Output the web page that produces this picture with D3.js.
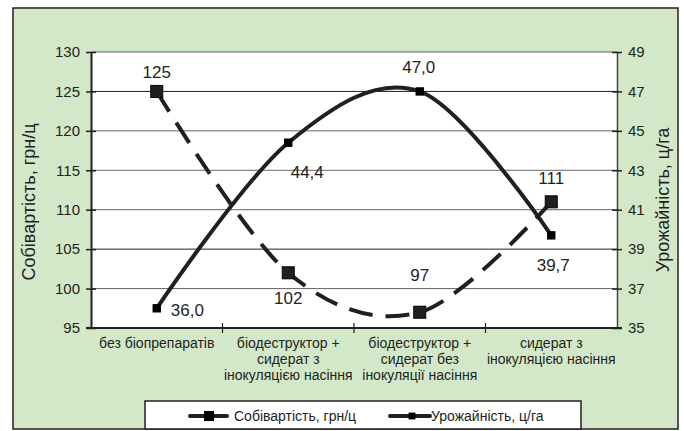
<!DOCTYPE html>
<html>
<head>
<meta charset="utf-8">
<script src="https://cdn.jsdelivr.net/npm/d3@7"></script>
<style>
  body { margin: 0; background: #fff; }
  svg text { font-family: "Liberation Sans", Arial, sans-serif; fill: #231f20; }
</style>
</head>
<body>
<div id="chart"></div>
<script>
// categories (multi-line labels)
const categories = [
    ["без біопрепаратів"],
    ["біодеструктор +", "сидерат з", "інокуляцією насіння"],
    ["біодеструктор +", "сидерат без", "інокуляції насіння"],
    ["сидерат з", "інокуляцією насіння"]
];
const costValues = [125, 102, 97, 111];
const yieldValues = [36.0, 44.4, 47.0, 39.7];
const costLabels = ["125", "102", "97", "111"];
const yieldLabels = ["36,0", "44,4", "47,0", "39,7"];
const leftTicks = [95, 100, 105, 110, 115, 120, 125, 130];
const rightTicks = [35, 37, 39, 41, 43, 45, 47, 49];
const legendNames = ["Собівартість, грн/ц", "Урожайність, ц/га"];

// label offsets relative to the point (dx, dy, anchor)
const costLabelPos = [[0, -13, "middle"], [0, 31, "middle"], [0, -31, "middle"], [0, -18, "middle"]];
const yieldLabelPos = [[14, 8, "start"], [19, 35, "middle"], [-1, -18, "middle"], [2, 36, "middle"]];

const W = 684, H = 431;
const margin = {top: 52, right: 67, bottom: 103, left: 91};

const svg = d3.select("#chart").append("svg")
    .attr("width", W)
    .attr("height", H);

// outer frame
svg.append("rect")
    .attr("x", 13).attr("y", 8)
    .attr("width", 665).attr("height", 421)
    .attr("fill", "#d3e8c9")
    .attr("stroke", "#231f20")
    .attr("stroke-width", 1.5);

const width = W - margin.left - margin.right;
const height = H - margin.top - margin.bottom;

const g = svg.append("g")
    .attr("transform", "translate(" + margin.left + "," + margin.top + ")");

g.append("rect")
    .attr("width", width).attr("height", height)
    .attr("fill", "#fff");

const x = d3.scaleBand()
    .domain(d3.range(categories.length))
    .range([0, width]);

const yL = d3.scaleLinear().domain([95, 130]).range([height, 0]);
const yR = d3.scaleLinear().domain([35, 49]).range([height, 0]);

// gridlines
g.selectAll(".grid")
    .data(leftTicks.slice(1))
    .enter().append("line")
    .attr("x1", 0).attr("x2", width)
    .attr("y1", d => yL(d)).attr("y2", d => yL(d))
    .attr("stroke", (d, i) => (d == 125 || d == 105) ? "#231f20" : "#666")
    .attr("stroke-width", 1);

// left axis
const leftAxis = g.append("g")
    .call(d3.axisLeft(yL).tickValues(leftTicks).tickSizeInner(5).tickSizeOuter(0).tickPadding(6));
leftAxis.select(".domain").attr("stroke", "#231f20").attr("stroke-width", 2);
leftAxis.selectAll(".tick line").attr("x2", 5).attr("x1", -5).attr("stroke", "#231f20").attr("stroke-width", 1.5);
leftAxis.selectAll(".tick text").style("font-size", "15px").attr("fill", "#231f20");

// right axis
const rightAxis = g.append("g")
    .attr("transform", "translate(" + width + ",0)")
    .call(d3.axisRight(yR).tickValues(rightTicks).tickSizeInner(5).tickSizeOuter(0).tickPadding(6));
rightAxis.select(".domain").attr("stroke", "#444").attr("stroke-width", 1.5);
rightAxis.selectAll(".tick line").attr("x1", -5).attr("x2", 5).attr("stroke", "#231f20").attr("stroke-width", 1.5);
rightAxis.selectAll(".tick text").style("font-size", "15px").attr("fill", "#231f20");

// bottom axis
g.append("line")
    .attr("x1", -5).attr("x2", width + 5)
    .attr("y1", height).attr("y2", height)
    .attr("stroke", "#231f20").attr("stroke-width", 2);
g.selectAll(".xtick")
    .data(d3.range(1, categories.length))
    .enter().append("line")
    .attr("x1", d => x(d)).attr("x2", d => x(d))
    .attr("y1", height - 5).attr("y2", height + 5)
    .attr("stroke", "#231f20").attr("stroke-width", 1.2);

// category labels
const catText = g.selectAll(".cat")
    .data(categories)
    .enter().append("text")
    .attr("text-anchor", "middle")
    .attr("transform", (d, i) => "translate(" + (x(i) + x.bandwidth() / 2) + "," + (height + 20) + ")")
    .style("font-size", "14px");
catText.selectAll("tspan")
    .data(d => d)
    .enter().append("tspan")
    .attr("x", 0)
    .attr("dy", (d, i) => i == 0 ? 0 : 16)
    .text(d => d);

// axis titles
svg.append("text")
    .attr("transform", "translate(35," + (margin.top + height / 2 + 12) + ") rotate(-90)")
    .attr("text-anchor", "middle")
    .style("font-size", "18px")
    .text("Собівартість, грн/ц");
svg.append("text")
    .attr("transform", "translate(669," + (margin.top + height / 2 + 10) + ") rotate(-90)")
    .attr("text-anchor", "middle")
    .style("font-size", "18px")
    .text("Урожайність, ц/га");

const cx = i => x(i) + x.bandwidth() / 2;

// cost line (dashed, smoothed)
const costLine = d3.line()
    .x((d, i) => cx(i))
    .y(d => yL(d))
    .curve(d3.curveCardinal.tension(0));
g.append("path")
    .datum(costValues)
    .attr("d", costLine)
    .attr("fill", "none")
    .attr("stroke", "#231f20")
    .attr("stroke-width", 4)
    .attr("stroke-dasharray", "24,13");

// yield line (solid, smoothed)
const yieldLine = d3.line()
    .x((d, i) => cx(i))
    .y(d => yR(d))
    .curve(d3.curveCardinal.tension(0));
g.append("path")
    .datum(yieldValues)
    .attr("d", yieldLine)
    .attr("fill", "none")
    .attr("stroke", "#231f20")
    .attr("stroke-width", 4);

// markers
g.selectAll(".sq")
    .data(costValues)
    .enter().append("rect")
    .attr("x", (d, i) => cx(i) - 6)
    .attr("y", d => yL(d) - 6)
    .attr("width", 12).attr("height", 12)
    .attr("fill", "#231f20")
    .attr("stroke", "#000").attr("stroke-width", 1);

g.selectAll(".dm")
    .data(yieldValues)
    .enter().append("path")
    .attr("d", d3.symbol().type(d3.symbolDiamond2).size(90))
    .attr("transform", (d, i) => "translate(" + cx(i) + "," + yR(d) + ") rotate(45)")
    .attr("fill", "#000");

// data labels
g.selectAll(".cl")
    .data(costValues)
    .enter().append("text")
    .attr("x", (d, i) => cx(i) + costLabelPos[i][0])
    .attr("y", (d, i) => yL(d) + costLabelPos[i][1])
    .attr("text-anchor", (d, i) => costLabelPos[i][2])
    .style("font-size", "17px")
    .text((d, i) => costLabels[i]);

g.selectAll(".yl")
    .data(yieldValues)
    .enter().append("text")
    .attr("x", (d, i) => cx(i) + yieldLabelPos[i][0])
    .attr("y", (d, i) => yR(d) + yieldLabelPos[i][1])
    .attr("text-anchor", (d, i) => yieldLabelPos[i][2])
    .style("font-size", "17px")
    .text((d, i) => yieldLabels[i]);

// legend
svg.append("rect")
    .attr("x", 145).attr("y", 401)
    .attr("width", 436).attr("height", 28)
    .attr("fill", "#fff")
    .attr("stroke", "#231f20").attr("stroke-width", 1.5);

const legend = svg.append("g");
// cost
legend.append("line")
    .attr("x1", 190).attr("x2", 227).attr("y1", 416).attr("y2", 416)
    .attr("stroke", "#231f20").attr("stroke-width", 4).attr("stroke-linecap", "round");
legend.append("rect")
    .attr("x", 204).attr("y", 411).attr("width", 10).attr("height", 10)
    .attr("fill", "#000");
legend.append("text")
    .attr("x", 234).attr("y", 421)
    .style("font-size", "14px")
    .text(legendNames[0]);
// yield
legend.append("line")
    .attr("x1", 390).attr("x2", 430).attr("y1", 416).attr("y2", 416)
    .attr("stroke", "#231f20").attr("stroke-width", 4).attr("stroke-linecap", "round");
legend.append("path")
    .attr("d", d3.symbol().type(d3.symbolDiamond2).size(60))
    .attr("transform", "translate(412,416) rotate(45)")
    .attr("fill", "#000");
legend.append("text")
    .attr("x", 431).attr("y", 421)
    .style("font-size", "14px")
    .text(legendNames[1]);
</script>
</body>
</html>
